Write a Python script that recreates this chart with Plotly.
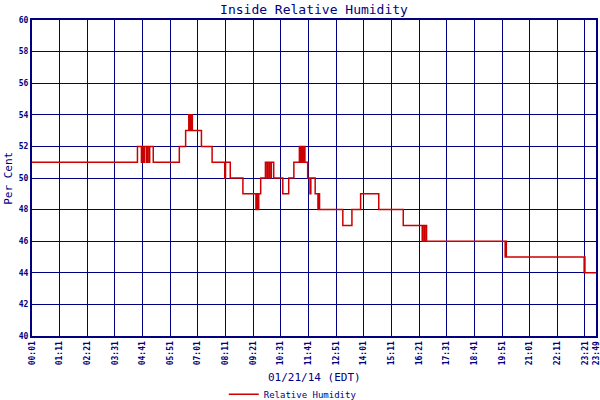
import plotly.graph_objects as go

# Change points of the step series: minute of day (00:00 = 0) and humidity (%)
change_minutes = [
    1,
    268, 278, 280, 284, 286, 291, 293, 297, 299, 308,
    374, 390, 398, 399, 402, 403, 406, 407,
    430, 457, 489, 491, 503, 535,
    568, 570, 573, 575, 580,
    592, 596, 597, 601, 602, 606, 607, 613,
    636, 651, 664,
    678, 680, 682, 683, 686, 688, 689, 692,
    699, 705, 707, 718, 725, 726, 729,
    788, 811, 833, 879, 941,
    989, 991, 995, 996, 1000,
    1199, 1200, 1202,
    1399, 1400, 1401, 1429,
]
humidity = [
    51,
    52, 51, 52, 51, 52, 51, 52, 51, 52, 51,
    52, 53, 54, 53, 54, 53, 54, 53,
    52, 51, 50, 51, 50, 49,
    48, 49, 48, 49, 50,
    51, 50, 51, 50, 51, 50, 51, 50,
    49, 50, 51,
    52, 51, 52, 51, 52, 51, 52, 51,
    50, 49, 50, 49, 48, 49, 48,
    47, 48, 49, 48, 47,
    46, 47, 46, 47, 46,
    45, 46, 45,
    44, 45, 44, 44,
]

x_tick_labels = ["00:01", "01:11", "02:21", "03:31", "04:41", "05:51", "07:01",
                 "08:11", "09:21", "10:31", "11:41", "12:51", "14:01", "15:11",
                 "16:21", "17:31", "18:41", "19:51", "21:01", "22:11", "23:21",
                 "23:49"]
y_ticks = [40, 42, 44, 46, 48, 50, 52, 54, 56, 58, 60]

NAVY = "#000080"
MONO = "DejaVu Sans Mono"

x_tick_vals = [int(s[:2]) * 60 + int(s[3:]) for s in x_tick_labels]

fig = go.Figure()
fig.add_trace(go.Scatter(
    x=change_minutes, y=humidity, mode="lines", line_shape="hv",
    line=dict(color="#cc0000", width=1.5), name="Relative Humidity",
    showlegend=True,
))

fig.update_layout(
    width=600, height=400, autosize=False,
    margin=dict(l=32, r=4, t=20, b=64, autoexpand=False),
    paper_bgcolor="white", plot_bgcolor="white",
    showlegend=True,
    legend=dict(orientation="h", x=0.34, xanchor="left", y=-0.184, yanchor="middle",
                font=dict(family=MONO, size=9, color=NAVY), bgcolor="rgba(0,0,0,0)"),
    title=dict(text="Inside Relative Humidity", x=0.5, xref="paper", xanchor="center",
               y=1 - 9 / 400, yref="container", yanchor="middle",
               font=dict(family=MONO, size=13, color=NAVY)),
    annotations=[
        dict(text="01/21/14 (EDT)", xref="paper", yref="paper", x=0.5, y=-0.13,
             xanchor="center", yanchor="middle", showarrow=False,
             font=dict(family=MONO, size=11, color=NAVY)),
        dict(text="Per Cent", xref="paper", yref="paper", x=-0.043, y=0.5,
             xanchor="center", yanchor="middle", showarrow=False, textangle=-90,
             font=dict(family=MONO, size=11, color=NAVY)),
    ],
)

fig.update_xaxes(
    range=[x_tick_vals[0], x_tick_vals[-1]], tickmode="array",
    tickvals=x_tick_vals, ticktext=x_tick_labels, tickangle=-90,
    tickfont=dict(family=MONO, size=8, color=NAVY, weight="bold"),
    showgrid=True, gridcolor=NAVY, gridwidth=1.3, zeroline=False,
    showline=True, linecolor=NAVY, linewidth=2, mirror=True, ticks="",
    automargin=False, ticklabeloverflow="allow",
)
fig.update_yaxes(
    range=[y_ticks[0], y_ticks[-1]], tickmode="array", tickvals=y_ticks,
    tickfont=dict(family=MONO, size=8, color=NAVY, weight="bold"),
    showgrid=True, gridcolor=NAVY, gridwidth=1.3, zeroline=False,
    showline=True, linecolor=NAVY, linewidth=2, mirror=True, ticks="",
    automargin=False,
)

fig.write_html(
    "out.html",
    config={"displayModeBar": False},
    post_script="document.body.style.margin='0';document.body.style.overflow='hidden';",
)
